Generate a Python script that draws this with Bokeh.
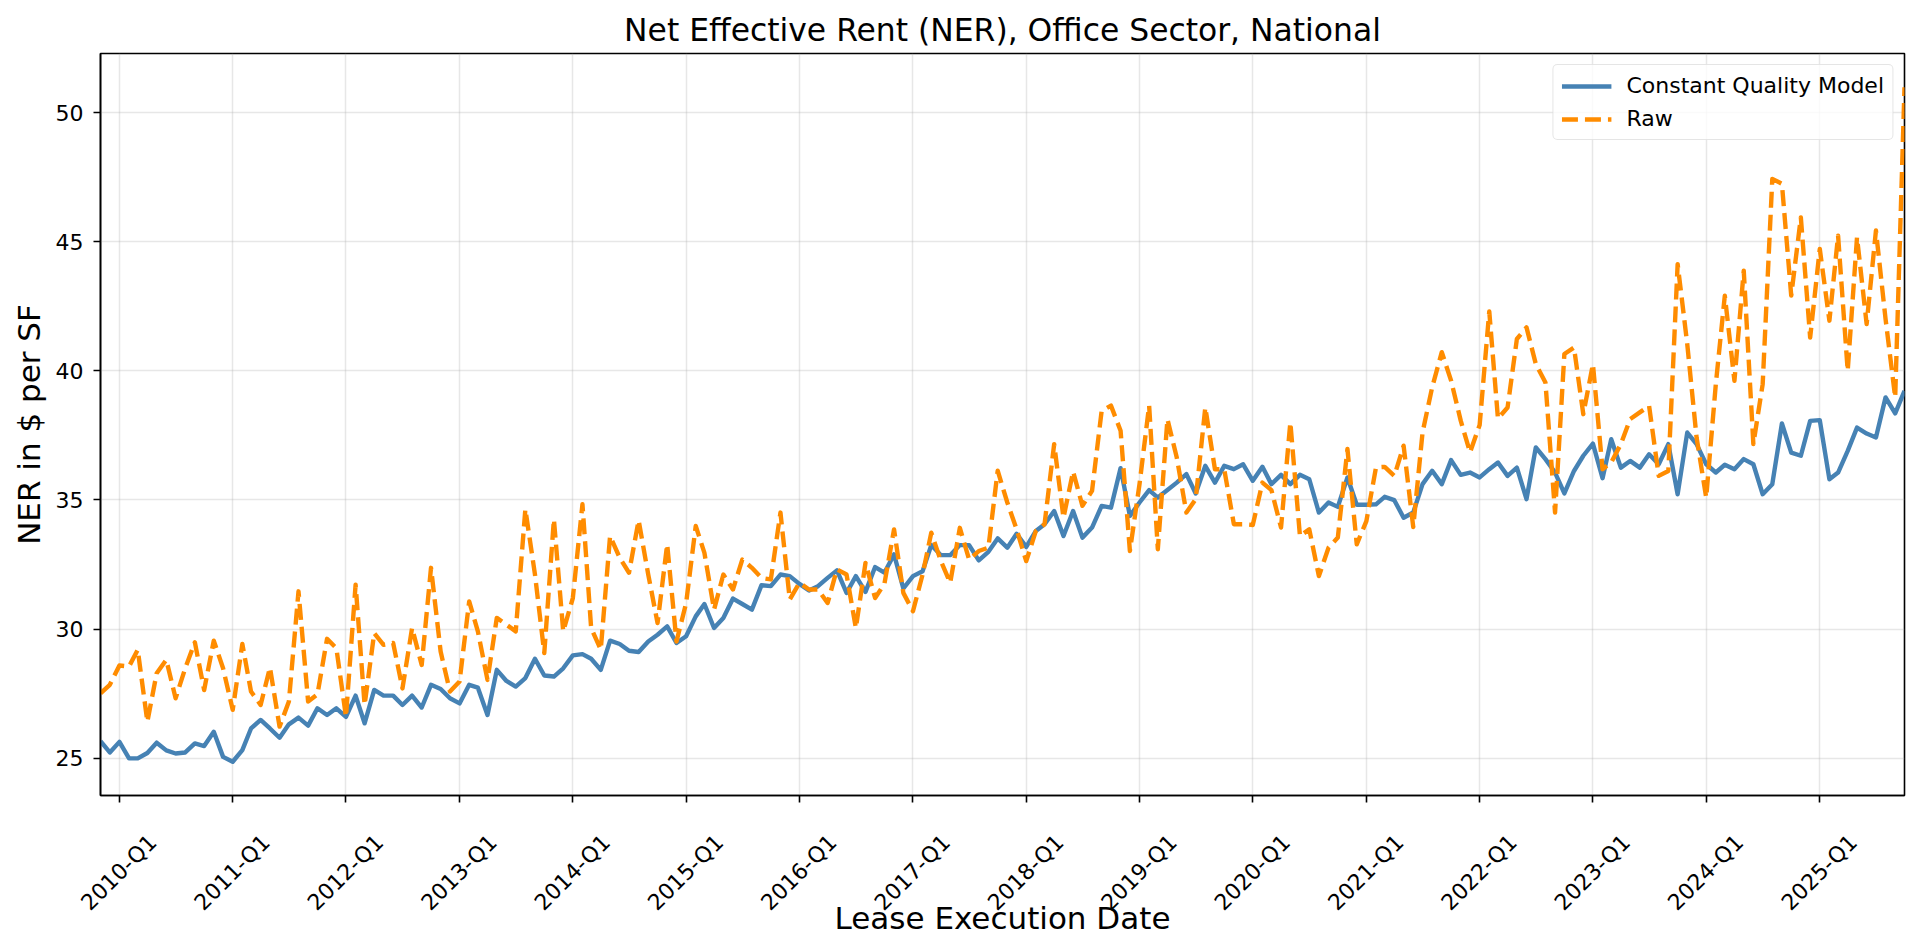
import math
import pandas as pd
from bokeh.plotting import figure
from bokeh.models import Range1d, FixedTicker, LinearAxis, Legend, LegendItem
from bokeh.embed import file_html
from bokeh.resources import INLINE

# Monthly net effective rent, $ per SF, Nov 2009 .. Oct 2025
first_month = "2009-11-01"

constant_quality = [
    25.66, 25.22, 25.63, 24.99, 24.99, 25.20, 25.60, 25.30, 25.18, 25.22, 25.57, 25.47,
    26.02, 25.05, 24.86, 25.31, 26.15, 26.48, 26.15, 25.79, 26.31, 26.57, 26.26, 26.93,
    26.67, 26.93, 26.60, 27.42, 26.35, 27.64, 27.42, 27.42, 27.06, 27.42, 26.96, 27.84,
    27.68, 27.32, 27.12, 27.84, 27.73, 26.67, 28.42, 27.99, 27.77, 28.10, 28.85, 28.20,
    28.16, 28.48, 28.98, 29.03, 28.85, 28.42, 29.55, 29.42, 29.16, 29.11, 29.52, 29.78,
    30.10, 29.46, 29.72, 30.49, 30.97, 30.04, 30.43, 31.18, 30.97, 30.75, 31.70, 31.66,
    32.11, 32.05, 31.75, 31.49, 31.66, 31.98, 32.27, 31.40, 32.05, 31.44, 32.40, 32.18,
    32.89, 31.57, 32.05, 32.24, 33.25, 32.86, 32.86, 33.25, 33.25, 32.66, 32.99, 33.51,
    33.15, 33.69, 33.18, 33.80, 34.06, 34.57, 33.60, 34.57, 33.54, 33.93, 34.77, 34.70,
    36.23, 34.38, 34.90, 35.38, 35.09, 35.38, 35.67, 36.00, 35.25, 36.32, 35.67, 36.32,
    36.19, 36.38, 35.74, 36.28, 35.61, 35.97, 35.61, 35.97, 35.80, 34.51, 34.90, 34.73,
    35.87, 34.81, 34.81, 34.83, 35.12, 34.99, 34.31, 34.51, 35.61, 36.13, 35.61, 36.54,
    35.97, 36.06, 35.87, 36.19, 36.45, 35.93, 36.25, 35.03, 37.03, 36.58, 36.06, 35.25,
    36.12, 36.71, 37.18, 35.84, 37.35, 36.25, 36.51, 36.25, 36.77, 36.38, 37.16, 35.22,
    37.61, 37.16, 36.38, 36.06, 36.36, 36.19, 36.58, 36.38, 35.22, 35.61, 37.96, 36.83,
    36.71, 38.06, 38.09, 35.80, 36.06, 36.90, 37.80, 37.57, 37.42, 38.97, 38.35, 39.22,
]

raw = [
    27.51, 27.84, 28.59, 28.55, 29.20, 26.41, 28.29, 28.81, 27.32, 28.48, 29.49, 27.64,
    29.55, 28.48, 26.87, 29.42, 27.58, 27.06, 28.51, 26.22, 27.19, 31.46, 27.19, 27.47,
    29.62, 29.26, 26.60, 31.72, 27.06, 29.84, 29.39, 29.46, 27.70, 30.04, 28.61, 32.37,
    29.13, 27.58, 27.97, 31.07, 29.91, 28.03, 30.43, 30.17, 29.91, 34.64, 32.11, 29.07,
    34.25, 29.91, 31.20, 34.83, 30.04, 29.20, 33.60, 32.76, 32.18, 34.21, 32.11, 30.23,
    33.28, 29.52, 31.00, 33.99, 32.95, 30.75, 32.11, 31.53, 32.69, 32.37, 31.98, 31.92,
    34.51, 31.14, 31.79, 31.53, 31.53, 31.01, 32.31, 32.11, 30.04, 32.56, 31.20, 31.75,
    33.86, 31.40, 30.69, 32.11, 33.73, 32.63, 31.79, 33.92, 32.69, 33.02, 33.15, 36.13,
    34.90, 33.86, 32.63, 33.80, 34.06, 37.16, 34.31, 36.10, 34.77, 35.35, 38.45, 38.65,
    37.68, 33.02, 35.61, 38.65, 33.09, 38.13, 36.64, 34.51, 35.03, 38.58, 36.19, 36.19,
    34.06, 34.06, 34.03, 35.67, 35.38, 33.93, 38.00, 33.60, 33.86, 32.05, 33.15, 33.54,
    36.97, 33.28, 34.18, 36.26, 36.28, 35.93, 37.10, 33.95, 37.61, 39.36, 40.72, 39.62,
    38.07, 36.84, 37.90, 42.30, 38.15, 38.58, 41.23, 41.68, 40.26, 39.55, 34.51, 40.65,
    40.90, 38.32, 40.26, 36.19, 36.45, 37.16, 38.13, 38.39, 38.64, 35.93, 36.12, 44.13,
    41.03, 37.42, 35.09, 39.48, 42.91, 39.61, 43.88, 37.16, 39.48, 47.43, 47.24, 42.91,
    45.94, 41.29, 44.72, 41.94, 45.23, 40.00, 45.17, 41.81, 45.43, 42.00, 38.97, 50.98,
]

tick_years = list(range(2010, 2026))
tick_labels = [f"{y}-Q1" for y in tick_years]
y_ticks = [25, 30, 35, 40, 45, 50]

# ---------------------------------------------------------------------------
dates = pd.date_range(first_month, periods=len(raw), freq="MS")
x_ms = [int(d.timestamp() * 1000) for d in dates]
tick_ms = [int(pd.Timestamp(f"{y}-01-01").timestamp() * 1000) for y in tick_years]

lo = min(min(raw), min(constant_quality))
hi = max(max(raw), max(constant_quality))
pad = 0.05 * (hi - lo)

FONT = "DejaVu Sans"
TICK_SIZE = "22px"
W, H = 1920, 951
LEFT, RIGHT, TOP, BOTTOM = 100, 16, 53, 156

p = figure(width=W, height=H, output_backend="svg", toolbar_location=None,
           x_range=Range1d(x_ms[0], x_ms[-1]), y_range=Range1d(lo - pad, hi + pad),
           min_border_left=LEFT, min_border_right=RIGHT, min_border_top=TOP,
           min_border_bottom=BOTTOM)

p.background_fill_color = "white"
p.border_fill_color = "white"
p.outline_line_color = "black"
p.outline_line_width = 1.6
p.outline_line_alpha = 1.0

# title
p.title.text = "Net Effective Rent (NER), Office Sector, National"
p.title.align = "center"
p.title.text_font = FONT
p.title.text_font_size = "31.4px"
p.title.text_font_style = "normal"
p.title.text_color = "black"
p.title.standoff = 12

xax = p.xaxis[0]
yax = p.yaxis[0]

# primary x axis: tick marks at the start of each year, no text
xax.ticker = FixedTicker(ticks=tick_ms)
xax.major_label_overrides = {t: "" for t in tick_ms}
xax.major_label_text_font_size = "0px"
xax.major_label_standoff = 0

yax.ticker = FixedTicker(ticks=y_ticks)

for ax in (xax, yax):
    ax.axis_line_color = "black"
    ax.axis_line_width = 1.6
    ax.major_tick_line_color = "black"
    ax.major_tick_line_width = 1.6
    ax.major_tick_out = 7
    ax.major_tick_in = 0
    ax.minor_tick_out = 0
    ax.minor_tick_in = 0

yax.major_label_text_font = FONT
yax.major_label_text_font_size = TICK_SIZE
yax.major_label_text_color = "black"
yax.major_label_standoff = 10
yax.axis_label = "NER in $ per SF"
yax.axis_label_standoff = 6
yax.axis_label_text_font = FONT
yax.axis_label_text_font_size = "31px"
yax.axis_label_text_font_style = "normal"
yax.axis_label_text_color = "black"

# secondary x axis carrying the 45-degree year labels; its label anchor sits
# at the text's end, so the anchor is moved right to centre the text on the tick
ms_per_px = (x_ms[-1] - x_ms[0]) / (W - LEFT - RIGHT)
label_shift = int(33.5 * ms_per_px)
label_ticks = [t + label_shift for t in tick_ms]
lab_ax = LinearAxis(ticker=FixedTicker(ticks=label_ticks),
                    major_label_overrides={t: s for t, s in zip(label_ticks, tick_labels)},
                    major_label_orientation=math.pi / 4,
                    major_label_standoff=36,
                    major_label_text_font=FONT,
                    major_label_text_font_size=TICK_SIZE,
                    major_label_text_color="black",
                    axis_line_color=None,
                    major_tick_line_color=None, minor_tick_line_color=None,
                    major_tick_out=0, major_tick_in=0,
                    minor_tick_out=0, minor_tick_in=0,
                    axis_label="Lease Execution Date",
                    axis_label_standoff=-27,
                    axis_label_text_font=FONT,
                    axis_label_text_font_size="31px",
                    axis_label_text_font_style="normal",
                    axis_label_text_color="black")
p.add_layout(lab_ax, "below")

# grid
p.xgrid.ticker = xax.ticker
p.grid.grid_line_color = "#b0b0b0"
p.grid.grid_line_alpha = 0.3
p.grid.grid_line_width = 1.5

# series
r_cq = p.line(x_ms, constant_quality, line_color="#4682B4", line_width=4.4,
              line_join="round")
r_raw = p.line(x_ms, raw, line_color="#FF8C00", line_width=4.4,
               line_dash="16 7", line_join="round")

legend = Legend(items=[LegendItem(label="Constant Quality Model", renderers=[r_cq]),
                       LegendItem(label="Raw", renderers=[r_raw])],
                location="top_right")
legend.label_text_font = FONT
legend.label_text_font_size = "22px"
legend.label_text_color = "black"
legend.glyph_width = 50
legend.label_standoff = 15
legend.padding = 8
legend.spacing = 8
legend.margin = 11
legend.border_line_color = "#cccccc"
legend.border_line_width = 1.5
legend.background_fill_alpha = 0.8
if "border_radius" in Legend.properties():
    legend.border_radius = 5
p.add_layout(legend)

open("out.html", "w").write(file_html(p, INLINE))
